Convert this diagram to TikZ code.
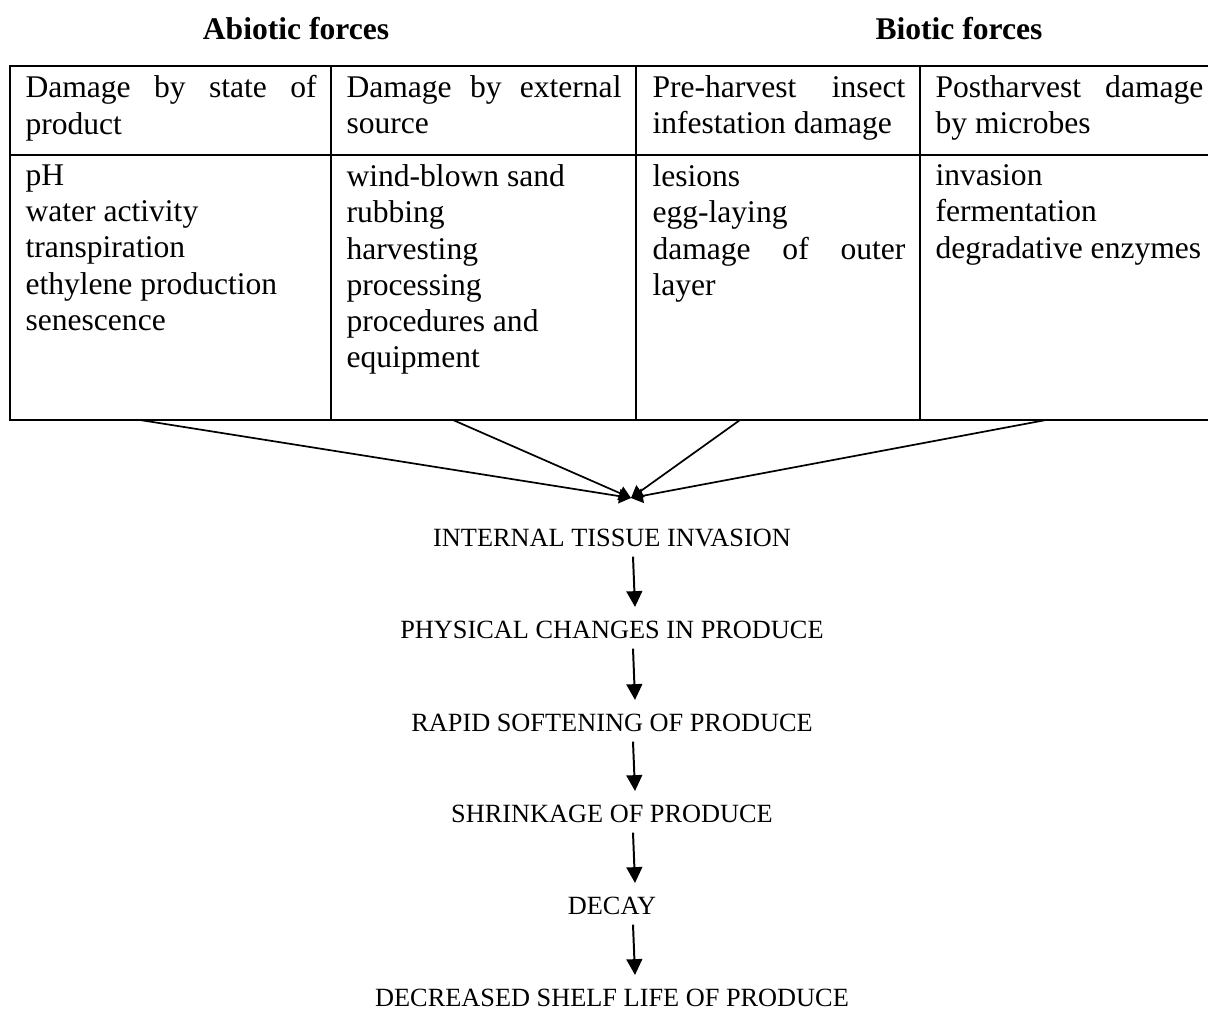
\documentclass[tikz,border=0pt]{standalone}
\usepackage{fontspec}
\setmainfont{Liberation Serif}
\usetikzlibrary{arrows.meta,calc,positioning}

\tikzset{
  cellbox/.style={anchor=north west, inner xsep=0pt, inner ysep=3.4pt, align=justify, font=\fontsize{12}{13.8}\selectfont},
  headtext/.style={anchor=base, inner sep=0pt, font=\fontsize{12}{14}\selectfont\bfseries},
  stagetext/.style={anchor=base, inner xsep=0pt, inner ysep=5pt, text height=6.6pt, text depth=0pt, font=\fontsize{10}{12}\selectfont},
  stagearrow/.style={line width=0.75pt, -{Triangle[length=6pt,width=6pt]}},
  feedline/.style={line width=0.65pt, -{Triangle[length=4.5pt,width=5.5pt]}},
  rule/.style={line width=0.7pt}
}

\begin{document}
\begin{tikzpicture}[x=0.38pt,y=-0.38pt]
\useasboundingbox (0,0) rectangle (1208,1009);
%Masse in Pixeln der Vorlage: Tabellenkanten oben, Kopfzeile, unten
  \pgfmathsetmacro{\tTop}{66}
  \pgfmathsetmacro{\tMid}{155}
  \pgfmathsetmacro{\tBot}{420}
%Tabelle
\draw[rule] (10,\tTop) rectangle (1212,\tBot);
\draw[rule] (10,\tMid) -- (1212,\tMid);
\foreach \xc in {331,636,920}{
\draw[rule] (\xc,\tTop) -- (\xc,\tBot);
}
\node[headtext] (abiotic) at (296,40) {Abiotic forces};
\node[headtext] (biotic) at (959,40) {Biotic forces};
%Kopfzeile
\node[cellbox, text width=110.6pt] (state) at (25,\tTop) {Damage by state of\linebreak product};
\node[cellbox, text width=104.5pt] (external) at (346,\tTop) {Damage by external\linebreak source};
\node[cellbox, text width=96.1pt] (insect) at (652,\tTop) {Pre-harvest insect\linebreak infestation damage};
\node[cellbox, text width=101.8pt] (microbe) at (935,\tTop) {Postharvest damage\linebreak by microbes};
%Inhalt
\node[cellbox, text width=110.6pt] (statelist) at (25,\tMid) {pH\\ water activity\\ transpiration\\ ethylene production\\ senescence};
\node[cellbox, text width=104.5pt] (externallist) at (346,\tMid) {wind-blown sand\\ rubbing\\ harvesting\\ processing\\ procedures and\\ equipment};
\node[cellbox, text width=96.1pt] (insectlist) at (652,\tMid) {lesions\\ egg-laying\\ damage of outer\linebreak layer};
\node[cellbox, text width=101.8pt] (microbelist) at (935,\tMid) {invasion\\ fermentation\\ degradative enzymes};
%Zusammenlauf
\coordinate (meet) at (631,498);
\foreach \xs [count=\i] in {140,453,740,1046}{
\coordinate (foot\i) at (\xs,\tBot);
\draw[feedline] (foot\i) -- (meet);
}
%Kette
\node[stagetext] (internal) at (612,546) {INTERNAL TISSUE INVASION};
\node[stagetext] (physical) at (612,638) {PHYSICAL CHANGES IN PRODUCE};
\node[stagetext] (rapid) at (612,731) {RAPID SOFTENING OF PRODUCE};
\node[stagetext] (shrinkage) at (612,822) {SHRINKAGE OF PRODUCE};
\node[stagetext] (decay) at (612,914) {DECAY};
\node[stagetext] (shelf) at (612,1006) {DECREASED SHELF LIFE OF PRODUCE};
\foreach \a/\b in {internal/physical,physical/rapid,rapid/shrinkage,shrinkage/decay,decay/shelf}{
\draw[stagearrow] ($(\a.south)+(21,-3)$) -- ($(\b.north)+(23,0)$);
}
\end{tikzpicture}
\end{document}
